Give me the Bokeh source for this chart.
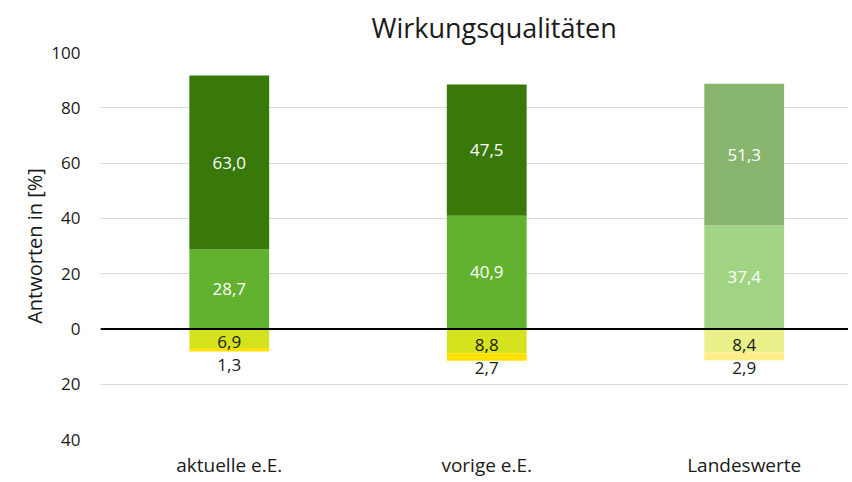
from bokeh.plotting import figure
from bokeh.models import Range1d, FixedTicker, ColumnDataSource, Span, Title
from bokeh.embed import file_html
from bokeh.resources import INLINE
from bokeh.core.properties import value

categories = ["aktuelle e.E.", "vorige e.E.", "Landeswerte"]
pos_low = [28.7, 40.9, 37.4]     # unteres positives Segment
pos_high = [63.0, 47.5, 51.3]    # oberes positives Segment
neg_1 = [6.9, 8.8, 8.4]          # erstes negatives Segment
neg_2 = [1.3, 2.7, 2.9]          # zweites negatives Segment
yticks = [-40, -20, 0, 20, 40, 60, 80, 100]
title_text = "Wirkungsqualitäten"
y_title = "Antworten in [%]"

col_high = ["#38790A", "#38790A", "#87B56E"]
col_low = ["#62B22F", "#62B22F", "#A0D382"]
col_n1 = ["#D4E31E", "#D4E31E", "#E9F08A"]
col_n2 = ["#FFE000", "#FFE000", "#FFEE88"]

FONT = "Open Sans"
TXT = "#1a1a1a"

def fmt(v):
    return f"{v:.1f}".replace(".", ",")

xs = [i + 0.5 for i in range(len(categories))]

p = figure(width=848, height=480, output_backend="svg", toolbar_location=None,
           x_range=Range1d(0, 2.905), y_range=Range1d(-40, 100),
           min_border_left=100, min_border_right=0, min_border_top=52, min_border_bottom=39)
p.outline_line_color = None
p.background_fill_color = "white"
p.border_fill_color = "white"

src = ColumnDataSource(dict(
    x=xs,
    low_top=pos_low,
    high_top=[a + b for a, b in zip(pos_low, pos_high)],
    n1_bot=[-a for a in neg_1],
    n2_bot=[-(a + b) for a, b in zip(neg_1, neg_2)],
    zero=[0] * 3,
    c_high=col_high, c_low=col_low, c_n1=col_n1, c_n2=col_n2,
    lab_low=[fmt(v) for v in pos_low],
    lab_high=[fmt(v) for v in pos_high],
    lab_n1=[fmt(v) for v in neg_1],
    lab_n2=[fmt(v) for v in neg_2],
    y_low=[a / 2 for a in pos_low],
    y_high=[a + b / 2 for a, b in zip(pos_low, pos_high)],
    y_n1=[-a / 2 for a in neg_1],
))

W = 0.31
p.vbar(x="x", bottom="zero", top="low_top", width=W, fill_color="c_low", line_color=None, source=src)
p.vbar(x="x", bottom="low_top", top="high_top", width=W, fill_color="c_high", line_color=None, source=src)
p.vbar(x="x", bottom="n1_bot", top="zero", width=W, fill_color="c_n1", line_color=None, source=src)
p.vbar(x="x", bottom="n2_bot", top="n1_bot", width=W, fill_color="c_n2", line_color=None, source=src)

tkw = dict(text_font=value(FONT), text_font_size="17px", text_align="center", text_baseline="middle")
p.text(x="x", y="y_low", text="lab_low", text_color="white", source=src, **tkw)
p.text(x="x", y="y_high", text="lab_high", text_color="white", source=src, **tkw)
p.text(x="x", y="y_n1", text="lab_n1", text_color=TXT, y_offset=4, source=src, **tkw)
p.text(x="x", y="y_n1", text="lab_n2", text_color=TXT, y_offset=27, source=src, **tkw)

p.add_layout(Span(location=0, dimension="width", line_color="black", line_width=2))

# axes
p.xaxis.ticker = FixedTicker(ticks=xs)
p.xaxis.major_label_overrides = {x: c for x, c in zip(xs, categories)}
p.xaxis.axis_line_color = None
p.xaxis.major_tick_line_color = None
p.xaxis.major_tick_out = 0
p.xaxis.major_tick_in = 0
p.xaxis.minor_tick_line_color = None
p.xaxis.major_label_standoff = 12
p.xaxis.major_label_text_font = FONT
p.xaxis.major_label_text_font_size = "19px"
p.xaxis.major_label_text_color = TXT

p.yaxis.ticker = FixedTicker(ticks=yticks)
p.yaxis.major_label_overrides = {t: str(abs(t)) for t in yticks}
p.yaxis.axis_line_color = None
p.yaxis.major_tick_line_color = None
p.yaxis.major_tick_out = 0
p.yaxis.major_tick_in = 0
p.yaxis.minor_tick_line_color = None
p.yaxis.major_label_standoff = 20
p.yaxis.major_label_text_font = FONT
p.yaxis.major_label_text_font_size = "17px"
p.yaxis.major_label_text_color = TXT
p.yaxis.axis_label = y_title
p.yaxis.axis_label_text_font = FONT
p.yaxis.axis_label_text_font_size = "20px"
p.yaxis.axis_label_text_font_style = "normal"
p.yaxis.axis_label_text_color = TXT
p.yaxis.axis_label_standoff = 0

p.xgrid.grid_line_color = None
p.ygrid.grid_line_color = "#D9D9D9"
p.ygrid.grid_line_width = 1

p.title = Title(text=title_text, align="left", offset=271, standoff=12,
                vertical_align="middle",
                text_font=FONT, text_font_size="27px", text_font_style="normal",
                text_color=TXT)

open("out.html", "w").write(file_html(p, INLINE))
